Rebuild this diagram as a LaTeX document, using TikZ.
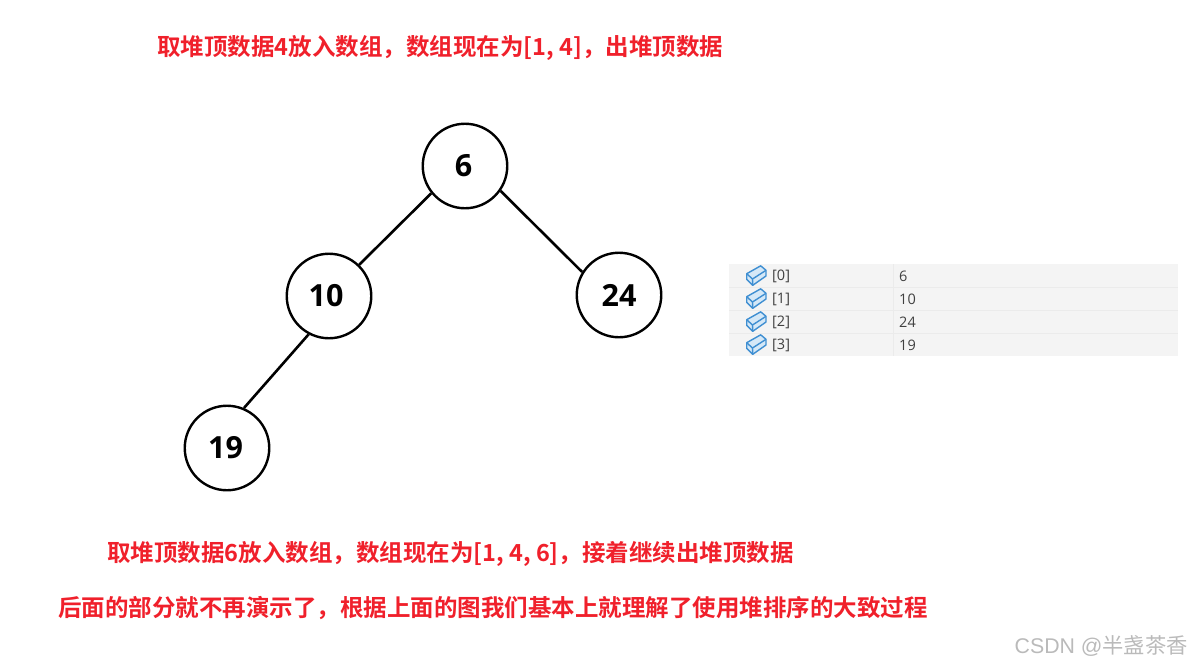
\documentclass[tikz,border=0pt]{standalone}
\usepackage{fontspec}
\setmainfont{Open Sans}
\newfontfamily\cjkbold{Noto Sans CJK SC Bold}
\newfontfamily\cjklight{Noto Sans CJK SC}
\newfontfamily\markfont{Liberation Sans}
\definecolor{notered}{HTML}{F0202B}
\definecolor{rowgray}{HTML}{F4F4F4}
\definecolor{rowline}{HTML}{EBEBEB}
\definecolor{cubeblue}{HTML}{3F8FD2}
\definecolor{cubefill}{HTML}{D5E8F7}
\begin{document}
\begin{tikzpicture}[
  x=1pt, y=-1pt,
  heapnode/.style={circle, draw, line width=2.4pt, minimum size=84.5pt, inner sep=0pt,
                   font=\fontsize{30.5}{30}\selectfont\bfseries},
  edge/.style={line width=2.6pt},
  note/.style={anchor=west, inner sep=0pt, text=notered, font=\fontsize{23.5}{25}\cjkbold},
  cell/.style={anchor=west, inner sep=0pt, text=black!75, font=\fontsize{14.5}{16}\selectfont},
  cube/.style={draw=cubeblue, fill=cubefill, line width=1.4pt, line join=round}
]
  \useasboundingbox (0,0) rectangle (1192,665);
  % Notes
  \node[note] (top) at (157,48) {取堆顶数据4放入数组，数组现在为[1, 4]，出堆顶数据};
  \node[note] (mid) at (107,554) {取堆顶数据6放入数组，数组现在为[1, 4, 6]，接着继续出堆顶数据};
  \node[note] (low) at (58,608) {后面的部分就不再演示了，根据上面的图我们基本上就理解了使用堆排序的大致过程};
  % Heap
  \node[heapnode] (n6) at (465,166) {\kern-3pt 6};
  \node[heapnode] (n10) at (329,296) {\kern-6pt 10};
  \node[heapnode] (n24) at (619,295) {24};
  \node[heapnode] (n19) at (227,448) {\kern-3pt 19};
  \draw[edge] (n6.219) -- (n10.46);
  \draw[edge] (n6.-35) -- (n24.148);
  \draw[edge] (n10.242) -- (n19.67);
  % Table
  \fill[rowgray] (729,264) rectangle (1178,356);
  \foreach \y in {287.5,310.5,333.5} {
    \draw[rowline] (729,\y) -- (1178,\y);
  }
  \draw[rowline] (893,264) -- (893,356);
  \foreach \i/\y/\v in {0/276/6,1/299/10,2/322/24,3/345/19} {
    \begin{scope}[shift={(756,\y)}]
      \draw[cube] (-9.3,-2.3) -- (4.7,-10.2) -- (10,-5.7) -- (10,0) -- (-3.3,9.3) -- (-9.3,3.3) -- cycle;
      \draw[cube, fill=none] (-9.3,-2.3) -- (-3.5,3) -- (10,-5.7) (-3.5,3) -- (-3.3,9.3);
    \end{scope}
    \node[cell] (k\i) at (772,\y+0.5) {[\i]};
    \node[cell] (v\i) at (899,\y+0.5) {\v};
  }
  % Watermark
  \node[anchor=east, inner sep=0pt, text=black!27, font=\fontsize{21.3}{22}\markfont] (mark) at (1188,646) {CSDN @{\cjklight 半盏茶香}};
\end{tikzpicture}
\end{document}
